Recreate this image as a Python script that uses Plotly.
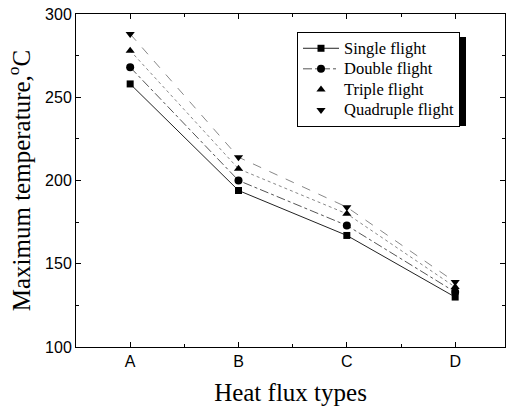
import plotly.graph_objects as go

categories = ["A", "B", "C", "D"]
series_names = ["Single flight", "Double flight", "Triple flight", "Quadruple flight"]
single = [258, 194, 167, 130]
double = [268, 200, 173, 133]
triple = [278, 207, 180, 136]
quadruple = [288, 214, 184, 139]

x = list(range(len(categories)))

styles = [
    ("square", 7, "solid", "#222", True),
    ("circle", 8, "dashdot", "#555", True),
    ("triangle-up", 8, "dot", "#888", False),
    ("triangle-down", 8, "dash", "#888", False),
]

fig = go.Figure()
for name, ys, (sym, sz, dash, lc, legline) in zip(series_names, [single, double, triple, quadruple], styles):
    label = "<span style='font-size:16.5px'>" + name + "</span>"
    if legline:
        fig.add_trace(go.Scatter(
            x=x, y=ys, name=label, mode="lines+markers",
            line=dict(color=lc, width=1, dash=dash),
            marker=dict(symbol=sym, size=sz, color="black"),
        ))
    else:
        fig.add_trace(go.Scatter(
            x=x, y=ys, name=label, mode="lines", showlegend=False,
            line=dict(color=lc, width=1, dash=dash),
        ))
        fig.add_trace(go.Scatter(
            x=x, y=ys, name=label, mode="markers",
            marker=dict(symbol=sym, size=sz, color="black"),
        ))

W, H = 506, 408
L, R, T, B = 76, 1, 14, 61
pw, ph = W - L - R, H - T - B

def px(v):
    return (v - L) / pw

def py(v):
    return (H - B - v) / ph

fig.add_shape(type="rect", xref="paper", yref="paper",
              x0=px(302), x1=px(466), y0=py(126), y1=py(37),
              fillcolor="black", line=dict(width=0), layer="above")

fig.update_layout(
    width=W, height=H,
    margin=dict(l=L, r=R, t=T, b=B, autoexpand=False),
    paper_bgcolor="white", plot_bgcolor="white",
    showlegend=True,
    legend=dict(x=px(297), y=py(32), xanchor="left", yanchor="top",
                bgcolor="white", bordercolor="black", borderwidth=1,
                font=dict(family="Liberation Serif", size=13.5, color="black"),
                itemwidth=36, tracegroupgap=0),
    xaxis=dict(range=[-0.5, 3.46], tickvals=x, ticktext=categories,
               automargin=False,
               showline=True, linecolor="black", linewidth=1, mirror="ticks",
               ticks="inside", ticklen=5, tickcolor="black",
               minor=dict(dtick=0.5, tick0=0.5, ticks="inside", ticklen=3, tickcolor="black"),
               showgrid=False, zeroline=False,
               tickfont=dict(family="Liberation Sans", size=16, color="black"),
               title=dict(text="Heat flux types", standoff=14,
                          font=dict(family="Liberation Serif", size=25, color="black"))),
    yaxis=dict(range=[100, 300], dtick=50, tick0=100,
               automargin=False,
               showline=True, linecolor="black", linewidth=1, mirror="ticks",
               ticks="inside", ticklen=5, tickcolor="black",
               minor=dict(dtick=25, ticks="inside", ticklen=3, tickcolor="black"),
               showgrid=False, zeroline=False,
               tickfont=dict(family="Liberation Sans", size=16, color="black"),
               title=dict(text="Maximum temperature,<sup>o</sup>C", standoff=7,
                          font=dict(family="Liberation Serif", size=25, color="black"))),
)

fig.write_html("out.html", config={"displayModeBar": False},
               post_script="document.body.style.margin='0px';")
